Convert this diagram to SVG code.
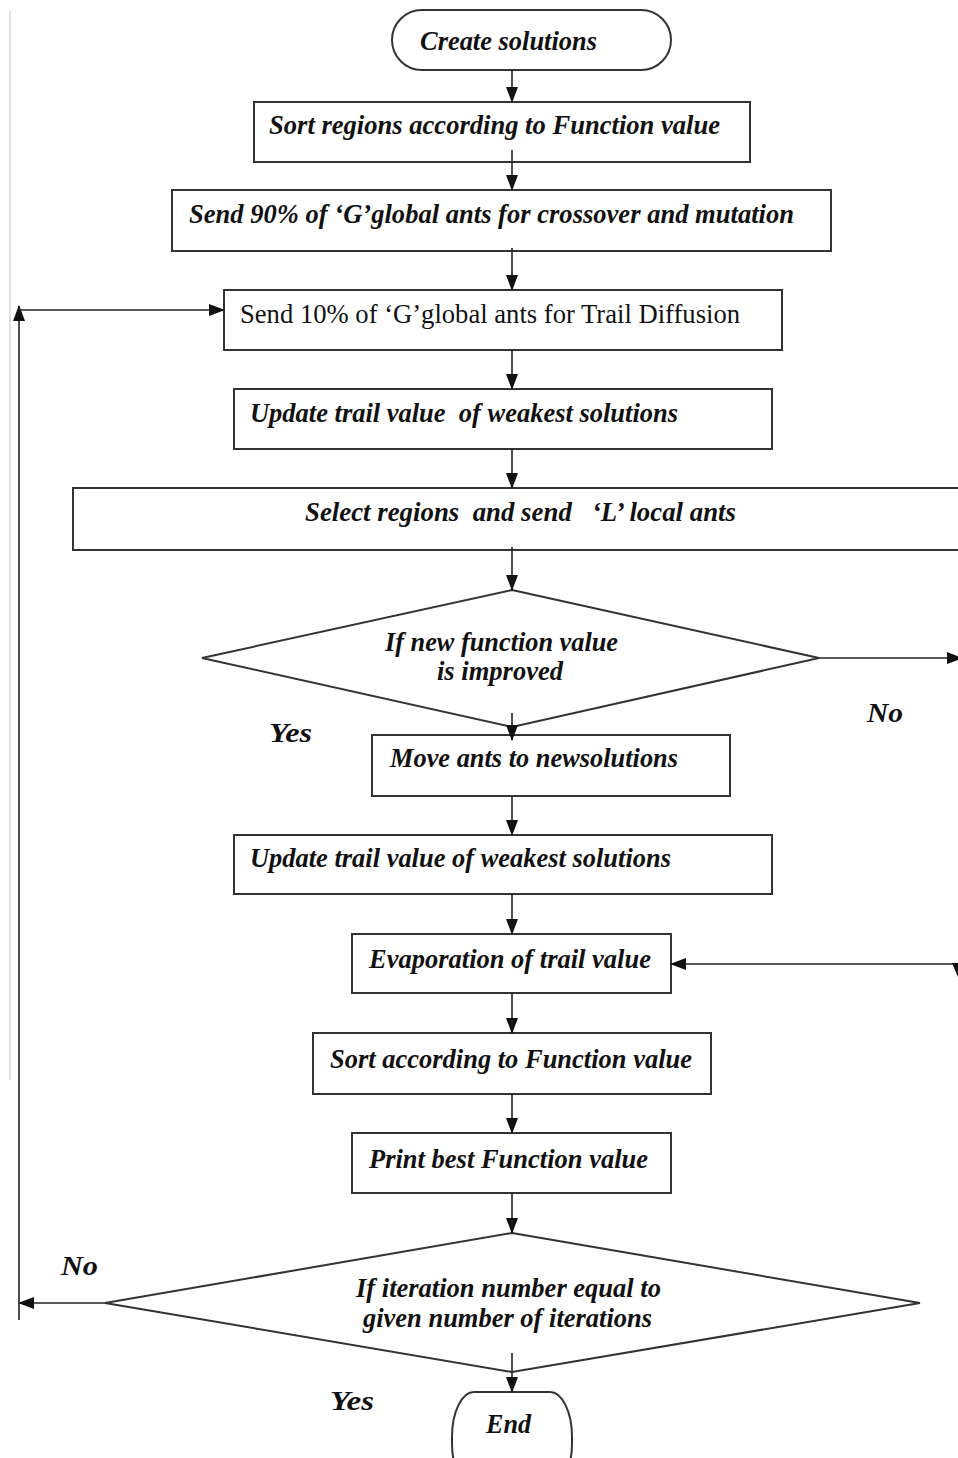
<svg xmlns="http://www.w3.org/2000/svg" width="958" height="1458" viewBox="0 0 958 1458">
<style>
.b{fill:#fff;stroke:#333;stroke-width:2}
.d{fill:#fff;stroke:#333;stroke-width:2}
.c{fill:none;stroke:#222;stroke-width:1.6}
.t{font-family:"Liberation Serif","Times New Roman",serif;font-size:27px;font-weight:bold;font-style:italic;fill:#111}
.r{font-family:"Liberation Serif","Times New Roman",serif;font-size:27px;fill:#111}
</style>
<defs>
<marker id="ah" markerWidth="16" markerHeight="12" refX="15" refY="6" orient="auto" markerUnits="userSpaceOnUse" viewBox="0 0 16 12">
<path d="M0,0 L16,6 L0,12 Z" fill="#111"/>
</marker>
</defs>
<rect width="958" height="1458" fill="#fff"/>
<line x1="10" y1="10" x2="10" y2="1080" stroke="#ccc" stroke-width="1.2"/>

<g id="n-create">
<rect class="b" x="392" y="10" width="279" height="60" rx="30" ry="30"/>
<text class="t" x="420" y="50" textLength="177" lengthAdjust="spacingAndGlyphs">Create solutions</text>
</g>
<g id="n-sort-regions">
<rect class="b" x="254" y="102" width="496" height="60"/>
<text class="t" x="269" y="134" textLength="451" lengthAdjust="spacingAndGlyphs">Sort regions according to Function value</text>
</g>
<g id="n-send90">
<rect class="b" x="172" y="190" width="659" height="61"/>
<text class="t" x="189" y="223" textLength="605" lengthAdjust="spacingAndGlyphs">Send 90% of ‘G’global ants for crossover and mutation</text>
</g>
<g id="n-send10">
<rect class="b" x="224" y="290" width="558" height="60"/>
<text class="r" x="240" y="323" textLength="500" lengthAdjust="spacingAndGlyphs">Send 10% of ‘G’global ants for Trail Diffusion</text>
</g>
<g id="n-update1">
<rect class="b" x="234" y="389" width="538" height="60"/>
<text class="t" x="250" y="422" textLength="428" lengthAdjust="spacingAndGlyphs" xml:space="preserve">Update trail value  of weakest solutions</text>
</g>
<g id="n-select">
<rect class="b" x="73" y="488" width="930" height="62"/>
<text class="t" x="305" y="521" textLength="431" lengthAdjust="spacingAndGlyphs" xml:space="preserve">Select regions  and send   ‘L’ local ants</text>
</g>
<g id="n-improved">
<polygon class="d" points="512,590 819,658 512,727 202,658"/>
<text class="t" x="385" y="651" textLength="233" lengthAdjust="spacingAndGlyphs">If new function value</text>
<text class="t" x="437" y="680" textLength="126" lengthAdjust="spacingAndGlyphs">is improved</text>
</g>
<g id="labels">
<text class="t" x="867" y="722" textLength="36" lengthAdjust="spacingAndGlyphs">No</text>
<text class="t" x="269" y="742" textLength="43" lengthAdjust="spacingAndGlyphs">Yes</text>
<text class="t" x="61" y="1275" textLength="37" lengthAdjust="spacingAndGlyphs">No</text>
<text class="t" x="330" y="1410" textLength="44" lengthAdjust="spacingAndGlyphs">Yes</text>
</g>
<g id="n-move">
<rect class="b" x="372" y="735" width="358" height="61"/>
<text class="t" x="390" y="767" textLength="288" lengthAdjust="spacingAndGlyphs">Move ants to newsolutions</text>
</g>
<g id="n-update2">
<rect class="b" x="234" y="835" width="538" height="59"/>
<text class="t" x="250" y="867" textLength="421" lengthAdjust="spacingAndGlyphs">Update trail value of weakest solutions</text>
</g>
<g id="n-evap">
<rect class="b" x="352" y="934" width="319" height="59"/>
<text class="t" x="369" y="968" textLength="282" lengthAdjust="spacingAndGlyphs">Evaporation of trail value</text>
</g>
<g id="n-sort">
<rect class="b" x="313" y="1033" width="398" height="61"/>
<text class="t" x="330" y="1068" textLength="362" lengthAdjust="spacingAndGlyphs">Sort according to Function value</text>
</g>
<g id="n-print">
<rect class="b" x="352" y="1133" width="319" height="60"/>
<text class="t" x="369" y="1168" textLength="279" lengthAdjust="spacingAndGlyphs">Print best Function value</text>
</g>
<g id="n-iter">
<polygon class="d" points="512,1233 920,1303 512,1372 105,1303"/>
<text class="t" x="356" y="1297" textLength="305" lengthAdjust="spacingAndGlyphs">If iteration number equal to</text>
<text class="t" x="363" y="1327" textLength="289" lengthAdjust="spacingAndGlyphs">given number of iterations</text>
</g>
<g id="n-end">
<rect class="b" x="452" y="1392" width="120" height="96" rx="22" ry="45"/>
<text class="t" x="486" y="1433" textLength="45" lengthAdjust="spacingAndGlyphs">End</text>
</g>

<g id="connectors">
<line class="c" x1="512" y1="70" x2="512" y2="102" marker-end="url(#ah)"/>
<line class="c" x1="512" y1="150" x2="512" y2="190" marker-end="url(#ah)"/>
<line class="c" x1="512" y1="248" x2="512" y2="290" marker-end="url(#ah)"/>
<line class="c" x1="512" y1="350" x2="512" y2="389" marker-end="url(#ah)"/>
<line class="c" x1="512" y1="449" x2="512" y2="488" marker-end="url(#ah)"/>
<line class="c" x1="512" y1="547" x2="512" y2="590" marker-end="url(#ah)"/>
<line class="c" x1="512" y1="713" x2="512" y2="740" marker-end="url(#ah)"/>
<line class="c" x1="819" y1="658" x2="962" y2="658" marker-end="url(#ah)"/>
<line class="c" x1="512" y1="796" x2="512" y2="835" marker-end="url(#ah)"/>
<line class="c" x1="512" y1="894" x2="512" y2="934" marker-end="url(#ah)"/>
<line class="c" x1="958" y1="964" x2="671" y2="964" marker-end="url(#ah)"/>
<path d="M952,963 L964,963 L958,977 Z" fill="#111"/>
<line class="c" x1="512" y1="993" x2="512" y2="1033" marker-end="url(#ah)"/>
<line class="c" x1="512" y1="1094" x2="512" y2="1133" marker-end="url(#ah)"/>
<line class="c" x1="512" y1="1193" x2="512" y2="1233" marker-end="url(#ah)"/>
<line class="c" x1="105" y1="1303" x2="19" y2="1303" marker-end="url(#ah)"/>
<line class="c" x1="19" y1="1320" x2="19" y2="306" marker-end="url(#ah)"/>
<line class="c" x1="19" y1="310" x2="224" y2="310" marker-end="url(#ah)"/>
<line class="c" x1="512" y1="1353" x2="512" y2="1392" marker-end="url(#ah)"/>
</g>
</svg>
